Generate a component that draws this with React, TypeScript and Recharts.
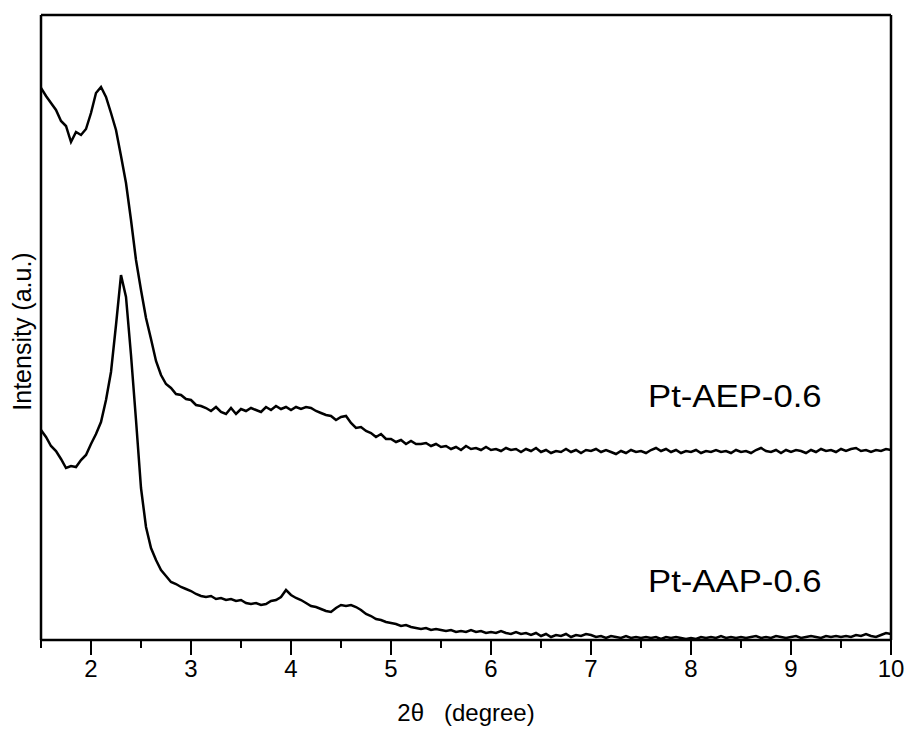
import React from "react";
import { LineChart, Line, XAxis, YAxis, ReferenceDot } from "recharts";

const FONT = "'Liberation Sans', Arial, Helvetica, sans-serif";

// 2θ scan positions (degree), 0.05 step
const twoTheta = [
  1.5, 1.55, 1.6, 1.65, 1.7, 1.75, 1.8, 1.85, 1.9, 1.95,
  2.0, 2.05, 2.1, 2.15, 2.2, 2.25, 2.3, 2.35, 2.4, 2.45,
  2.5, 2.55, 2.6, 2.65, 2.7, 2.75, 2.8, 2.85, 2.9, 2.95,
  3.0, 3.05, 3.1, 3.15, 3.2, 3.25, 3.3, 3.35, 3.4, 3.45,
  3.5, 3.55, 3.6, 3.65, 3.7, 3.75, 3.8, 3.85, 3.9, 3.95,
  4.0, 4.05, 4.1, 4.15, 4.2, 4.25, 4.3, 4.35, 4.4, 4.45,
  4.5, 4.55, 4.6, 4.65, 4.7, 4.75, 4.8, 4.85, 4.9, 4.95,
  5.0, 5.05, 5.1, 5.15, 5.2, 5.25, 5.3, 5.35, 5.4, 5.45,
  5.5, 5.55, 5.6, 5.65, 5.7, 5.75, 5.8, 5.85, 5.9, 5.95,
  6.0, 6.05, 6.1, 6.15, 6.2, 6.25, 6.3, 6.35, 6.4, 6.45,
  6.5, 6.55, 6.6, 6.65, 6.7, 6.75, 6.8, 6.85, 6.9, 6.95,
  7.0, 7.05, 7.1, 7.15, 7.2, 7.25, 7.3, 7.35, 7.4, 7.45,
  7.5, 7.55, 7.6, 7.65, 7.7, 7.75, 7.8, 7.85, 7.9, 7.95,
  8.0, 8.05, 8.1, 8.15, 8.2, 8.25, 8.3, 8.35, 8.4, 8.45,
  8.5, 8.55, 8.6, 8.65, 8.7, 8.75, 8.8, 8.85, 8.9, 8.95,
  9.0, 9.05, 9.1, 9.15, 9.2, 9.25, 9.3, 9.35, 9.4, 9.45,
  9.5, 9.55, 9.6, 9.65, 9.7, 9.75, 9.8, 9.85, 9.9, 9.95,
  10.0,
];

// Pt-AEP-0.6 (offset upward in the plot)
const aepValues = [
  552, 544, 537, 530, 519, 514, 498, 508, 505, 511,
  527, 547, 553, 543, 527, 510, 484, 457, 420, 380,
  350, 322, 301, 279, 265, 256, 252, 246, 245, 241,
  240, 235, 234, 232, 229, 233, 228, 226, 232, 226,
  231, 229, 232, 230, 228, 233, 230, 234, 231, 233,
  230, 233, 231, 233, 232, 229, 227, 225, 224, 220,
  223, 224, 217, 212, 213, 209, 207, 203, 206, 201,
  201, 198, 200, 196, 199, 196, 196, 197, 194, 196,
  193, 194, 191, 193, 190, 194, 191, 192, 190, 193,
  190, 191, 189, 192, 190, 191, 188, 191, 189, 192,
  188, 190, 187, 189, 188, 191, 188, 190, 187, 190,
  189, 191, 188, 190, 188, 186, 189, 187, 190, 188,
  189, 187, 190, 192, 189, 191, 188, 190, 187, 189,
  188, 190, 187, 189, 188, 190, 188, 189, 187, 190,
  188, 189, 187, 190, 192, 189, 188, 190, 187, 190,
  188, 190, 189, 187, 190, 188, 191, 189, 190, 188,
  191, 189, 191, 192, 189, 190, 188, 190, 189, 191,
  190,
];

// Pt-AAP-0.6
const aapValues = [
  210, 203, 194, 189, 181, 172, 174, 173, 180, 185,
  196, 206, 218, 240, 268, 315, 365, 343, 285, 220,
  152, 113, 92, 80, 70, 64, 58, 56, 53, 51,
  49, 46, 44, 43, 44, 41, 42, 40, 41, 39,
  40, 37, 36, 37, 35, 36, 39, 40, 43, 50,
  45, 42, 40, 37, 34, 33, 31, 29, 28, 32,
  35, 34, 35, 33, 30, 26, 24, 21, 20, 18,
  17, 16, 14, 15, 13, 12, 11, 12, 10, 11,
  10, 9, 10, 8, 9, 8, 10, 8, 9, 7,
  8, 7, 9, 7, 6, 8, 6, 7, 5, 7,
  4, 6, 3, 5, 4, 6, 3, 5, 4, 6,
  5, 3, 4, 2, 4, 3, 2, 4, 2, 3,
  2, 3, 2, 3, 1, 3, 2, 3, 2, 1,
  2, 1, 3, 2, 3, 2, 4, 2, 3, 2,
  3, 2, 3, 4, 2, 3, 2, 4, 3, 2,
  3, 4, 2, 3, 4, 3, 2, 4, 3, 4,
  3, 4, 3, 5, 4, 6, 4, 3, 5, 7,
  6,
];

const xTicks = [1.5, 2, 2.5, 3, 3.5, 4, 4.5, 5, 5.5, 6, 6.5, 7, 7.5, 8, 8.5, 9, 9.5, 10];

const sampleLabels = [
  { name: "Pt-AEP-0.6", x: 7.57, y: 233 },
  { name: "Pt-AAP-0.6", x: 7.57, y: 48 },
];

const data = twoTheta.map((t, i) => ({ t, aep: aepValues[i], aap: aapValues[i] }));

function XTick(props: any) {
  const { x, y, payload } = props;
  const major = Number.isInteger(payload.value);
  return (
    <g>
      <line x1={x} x2={x} y1={y} y2={y + (major ? 15 : 8)} stroke="#000" strokeWidth={2} />
      {major ? (
        <text x={x} y={y + 37} textAnchor="middle" fontSize={24} fontFamily={FONT} fill="#000">
          {payload.value}
        </text>
      ) : null}
    </g>
  );
}

const frame = { stroke: "#000", strokeWidth: 2.5 };

export default function App() {
  return (
    <div style={{ position: "absolute", left: 0, top: 0, width: 909, height: 729, background: "#fff" }}>
      <LineChart
        width={909}
        height={729}
        data={data}
        margin={{ top: 14, right: 17, left: 40, bottom: 0 }}
      >
        <XAxis
          dataKey="t"
          type="number"
          domain={[1.5, 10]}
          ticks={xTicks}
          interval={0}
          height={89}
          tickSize={0}
          tickMargin={0}
          tickLine={false}
          tick={<XTick />}
          axisLine={frame}
          allowDataOverflow
          label={{
            content: (p: any) => {
              const vb = p.viewBox;
              return (
                <text
                  x={vb.x + vb.width / 2}
                  y={vb.y + vb.height - 8}
                  textAnchor="middle"
                  fontSize={24}
                  fontFamily={FONT}
                  fill="#000"
                  style={{ whiteSpace: "pre" }}
                >
                  {"2θ   (degree)"}
                </text>
              );
            },
          }}
        />
        <XAxis
          xAxisId="top"
          orientation="top"
          type="number"
          domain={[1.5, 10]}
          height={1}
          tick={false}
          tickLine={false}
          axisLine={frame}
        />
        <YAxis
          type="number"
          domain={[0, 625]}
          width={1}
          tick={false}
          tickLine={false}
          axisLine={frame}
          allowDataOverflow
          label={{
            content: (p: any) => {
              const vb = p.viewBox;
              const cx = 31;
              const cy = vb.y + vb.height / 2 + 4;
              return (
                <text
                  x={cx}
                  y={cy}
                  transform={`rotate(-90, ${cx}, ${cy})`}
                  textAnchor="middle"
                  fontSize={25}
                  fontFamily={FONT}
                  fill="#000"
                >
                  Intensity (a.u.)
                </text>
              );
            },
          }}
        />
        <YAxis
          yAxisId="right"
          orientation="right"
          type="number"
          domain={[0, 625]}
          width={1}
          tick={false}
          tickLine={false}
          axisLine={frame}
        />
        <Line
          type="linear"
          dataKey="aep"
          stroke="#000"
          strokeWidth={2.5}
          dot={false}
          isAnimationActive={false}
        />
        <Line
          type="linear"
          dataKey="aap"
          stroke="#000"
          strokeWidth={2.5}
          dot={false}
          isAnimationActive={false}
        />
        {sampleLabels.map((s) => (
          <ReferenceDot
            key={s.name}
            x={s.x}
            y={s.y}
            r={1}
            fill="none"
            stroke="none"
            label={{
              content: (p: any) => {
                const vb = p.viewBox;
                const lx = vb.x + vb.width / 2;
                const ly = vb.y + vb.height / 2;
                return (
                  <text
                    x={0}
                    y={0}
                    transform={`translate(${lx}, ${ly}) scale(1.12, 1)`}
                    textAnchor="start"
                    fontSize={31}
                    fontFamily={FONT}
                    fill="#000"
                  >
                    {s.name}
                  </text>
                );
              },
            }}
          />
        ))}
      </LineChart>
    </div>
  );
}
